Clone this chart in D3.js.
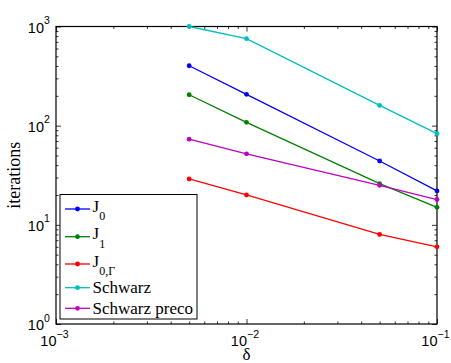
<!DOCTYPE html>
<html>
<head>
<meta charset="utf-8">
<script src="https://cdn.jsdelivr.net/npm/d3@7"></script>
<style>
  body { margin: 0; background: #fff; }
  svg { display: block; }
</style>
</head>
<body>
<svg id="chart"></svg>
<script>
const width = 451;
const height = 363;
const margin = { top: 26.5, right: 14, bottom: 39, left: 56 };

// delta values and iteration counts
const deltas = [0.005, 0.01, 0.05, 0.1];
const j0 = [402, 207, 44, 22];
const j1 = [205, 108, 26, 15];
const j0Gamma = [29, 20, 8, 6];
const schwarz = [1000, 753, 160, 83];
const schwarzPreco = [73, 52, 25, 18];

const seriesNames = ["J0", "J1", "J0,Γ", "Schwarz", "Schwarz preco"];
const seriesColors = ["#0000ff", "#008000", "#ff0000", "#00bfbf", "#bf00bf"];
const seriesValues = [j0, j1, j0Gamma, schwarz, schwarzPreco];

const xTicks = [1e-3, 1e-2, 1e-1];
const xTickExp = ["−3", "−2", "−1"];
const yTicks = [1, 10, 100, 1000];
const yTickExp = ["0", "1", "2", "3"];

const svg = d3.select("#chart").attr("width", width).attr("height", height);

const xScale = d3
  .scaleLog()
  .domain([1e-3, 1e-1])
  .range([margin.left, width - margin.right]);

const yScale = d3
  .scaleLog()
  .domain([1, 1000])
  .range([height - margin.bottom, margin.top]);

// minor tick values (2..9 within each decade)
const minorX = [];
[1e-3, 1e-2].forEach((d) => {
  for (let k = 2; k <= 9; k++) minorX.push(d * k);
});
const minorY = [];
[1, 10, 100].forEach((d) => {
  for (let k = 2; k <= 9; k++) minorY.push(d * k);
});

const plotW = width - margin.left - margin.right;
const plotH = height - margin.top - margin.bottom;

// inward ticks on all four sides, like a matlab box
function addTicks(axisFn, scale, values, size, transform) {
  svg
    .append("g")
    .attr("transform", transform)
    .call(axisFn(scale).tickValues(values).tickSize(size).tickFormat(""))
    .call((g) => g.select(".domain").remove())
    .call((g) => g.selectAll("line").attr("stroke", "#000").attr("stroke-width", 0.8));
}
addTicks(d3.axisBottom, xScale, xTicks, -5, `translate(0,${height - margin.bottom})`);
addTicks(d3.axisBottom, xScale, minorX, -2.5, `translate(0,${height - margin.bottom})`);
addTicks(d3.axisTop, xScale, xTicks, -5, `translate(0,${margin.top})`);
addTicks(d3.axisTop, xScale, minorX, -2.5, `translate(0,${margin.top})`);
addTicks(d3.axisLeft, yScale, yTicks, -5, `translate(${margin.left},0)`);
addTicks(d3.axisLeft, yScale, minorY, -2.5, `translate(${margin.left},0)`);
addTicks(d3.axisRight, yScale, yTicks, -5, `translate(${width - margin.right},0)`);
addTicks(d3.axisRight, yScale, minorY, -2.5, `translate(${width - margin.right},0)`);

// box
svg
  .append("rect")
  .attr("x", margin.left)
  .attr("y", margin.top)
  .attr("width", plotW)
  .attr("height", plotH)
  .attr("fill", "none")
  .attr("stroke", "#000")
  .attr("stroke-width", 1.2);

// tick labels with superscripts
const tickFont = "'Liberation Sans', Arial, sans-serif";
xTicks.forEach((t, i) => {
  const x = xScale(t);
  svg.append("text")
    .attr("x", x + 0.5)
    .attr("y", height - margin.bottom + 22)
    .attr("text-anchor", "end")
    .style("font-family", tickFont)
    .style("font-size", "14.5px")
    .text("10");
  svg.append("text")
    .attr("x", x + 0.5)
    .attr("y", height - margin.bottom + 13.5)
    .style("font-family", tickFont)
    .style("font-size", "10.5px")
    .text(xTickExp[i]);
});
yTicks.forEach((t, i) => {
  const y = yScale(t);
  svg.append("text")
    .attr("x", margin.left - 12)
    .attr("y", y + 6.2)
    .attr("text-anchor", "end")
    .style("font-family", tickFont)
    .style("font-size", "14.5px")
    .text("10");
  svg.append("text")
    .attr("x", margin.left - 12)
    .attr("y", y - 2.5)
    .style("font-family", tickFont)
    .style("font-size", "10.5px")
    .text(yTickExp[i]);
});

// axis labels
const serif = "'Liberation Serif', 'Times New Roman', serif";
svg.append("text")
  .attr("x", xScale(1e-2))
  .attr("y", height - 3)
  .attr("text-anchor", "middle")
  .style("font-family", serif)
  .style("font-size", "17px")
  .text("δ");

svg.append("text")
  .attr("transform", `translate(20, ${margin.top + plotH / 2}) rotate(-90)`)
  .attr("text-anchor", "middle")
  .style("font-family", serif)
  .style("font-size", "18px")
  .text("iterations");

// series lines and markers
const line = d3
  .line()
  .x((d) => xScale(d[0]))
  .y((d) => yScale(d[1]));

seriesValues.forEach((vals, i) => {
  const pts = deltas.map((d, k) => [d, vals[k]]);
  svg.append("path")
    .datum(pts)
    .attr("d", line)
    .attr("fill", "none")
    .attr("stroke", seriesColors[i])
    .attr("stroke-width", 1.3);
  svg.selectAll(null)
    .data(pts)
    .enter()
    .append("circle")
    .attr("cx", (d) => xScale(d[0]))
    .attr("cy", (d) => yScale(d[1]))
    .attr("r", 2.4)
    .attr("fill", seriesColors[i]);
});

// legend
const legend = svg.append("g");
legend.append("rect")
  .attr("x", 60)
  .attr("y", 194.5)
  .attr("width", 137)
  .attr("height", 124.5)
  .attr("fill", "#fff")
  .attr("stroke", "#000")
  .attr("stroke-width", 1);

const legendY = [209, 236.7, 264, 287.7, 308.3];
seriesNames.forEach((name, i) => {
  const y = legendY[i];
  legend.append("line")
    .attr("x1", 65).attr("x2", 90)
    .attr("y1", y).attr("y2", y)
    .attr("stroke", seriesColors[i])
    .attr("stroke-width", 1.3);
  legend.append("circle")
    .attr("cx", 77.5).attr("cy", y).attr("r", 2.4)
    .attr("fill", seriesColors[i]);
  const txt = legend.append("text")
    .attr("x", 92.5)
    .style("font-family", serif)
    .style("font-size", "17px");
  if (name.startsWith("J")) {
    txt.attr("y", y + 2.7);
    txt.append("tspan").text("J");
    txt.append("tspan")
      .attr("dy", 8.3)
      .style("font-size", "12px")
      .text(name.slice(1));
  } else {
    txt.attr("y", y + 5.5).text(name);
  }
});
</script>
</body>
</html>
